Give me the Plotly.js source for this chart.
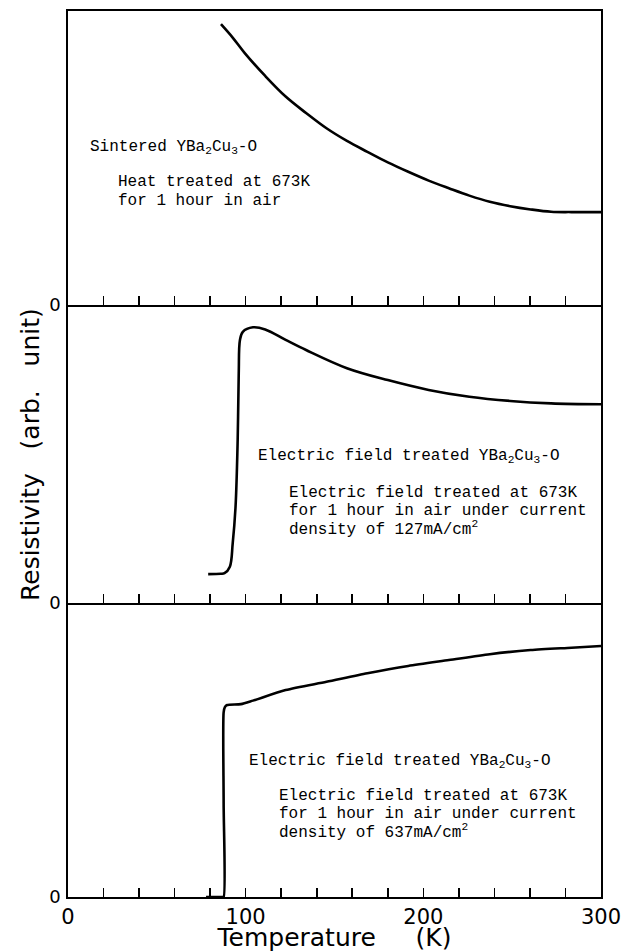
<!DOCTYPE html>
<html>
<head>
<meta charset="utf-8">
<script src="https://cdn.plot.ly/plotly-3.0.1.min.js"></script>
<style>html,body{margin:0;padding:0;background:#fff;}#chart{width:637px;height:952px;}</style>
</head>
<body>
<div id="chart"></div>
<script>
// ---- data (temperature in K, resistivity in arbitrary units, 0-100 per panel) ----
const sinteredT = [86.1, 92.9, 99.6, 111.0, 122.5, 134.0, 145.5, 157.0, 168.5, 180.0, 191.5, 203.0, 214.4, 225.9, 237.4, 248.9, 260.4, 271.9, 283.4, 300];
const sinteredR = [95.5, 90.8, 85.6, 77.9, 70.9, 65.3, 60.1, 55.8, 52.1, 48.5, 45.3, 42.3, 39.7, 37.2, 35.1, 33.6, 32.5, 31.7, 31.6, 31.6];

const ef127T = [78.9, 86.0, 88.1, 91.1, 92.7, 94.3, 95.5, 96.1, 96.8, 98.4, 104.1, 111.0, 122.5, 134.0, 157.0, 180.0, 203.0, 225.9, 248.9, 271.9, 300];
const ef127R = [9.7, 9.8, 10.0, 12.2, 20.0, 32.3, 54.7, 77.1, 88.3, 91.0, 92.5, 91.8, 88.3, 84.9, 78.8, 74.8, 71.5, 69.2, 67.8, 67.0, 66.7];

const ef637T = [77.7, 86.8, 87.6, 87.6, 87.6, 88.3, 89.6, 97.3, 104.1, 122.5, 145.5, 168.5, 191.5, 214.4, 237.4, 260.4, 283.4, 300];
const ef637R = [0, 0, 0, 32.0, 62.8, 64.6, 65.3, 65.6, 66.8, 70.4, 73.2, 76.1, 78.6, 80.6, 82.6, 84.0, 84.8, 85.4];

const xTickVals = [0, 100, 200, 300];
const xTickText = ['0', '100', '200', '300'];
const xMinorStep = 20;
const yTickVals = [0];
const yTickText = ['0'];

const topLabels = [
  {x: 11.5, y: 53.5, t: 'Sintered YBa<sub>2</sub>Cu<sub>3</sub>-O'},
  {x: 27.0, y: 41.9, t: 'Heat treated at 673K'},
  {x: 27.0, y: 35.4, t: 'for 1 hour in air'}
];
const midLabels = [
  {x: 105.6, y: 49.0, t: 'Electric field treated YBa<sub>2</sub>Cu<sub>3</sub>-O'},
  {x: 123.0, y: 36.8, t: 'Electric field treated at 673K'},
  {x: 123.0, y: 30.8, t: 'for 1 hour in air under current'},
  {x: 123.0, y: 25.0, t: 'density of 127mA/cm<sup>2</sup>'}
];
const botLabels = [
  {x: 101.0, y: 46.0, t: 'Electric field treated YBa<sub>2</sub>Cu<sub>3</sub>-O'},
  {x: 117.4, y: 34.2, t: 'Electric field treated at 673K'},
  {x: 117.4, y: 28.4, t: 'for 1 hour in air under current'},
  {x: 117.4, y: 22.4, t: 'density of 637mA/cm<sup>2</sup>'}
];

// ---- traces ----
const lineStyle = {color: '#000', width: 2.6, shape: 'spline', smoothing: 1};
const traces = [
  {x: sinteredT, y: sinteredR, xaxis: 'x', yaxis: 'y', mode: 'lines', line: lineStyle, hoverinfo: 'skip'},
  {x: ef127T, y: ef127R, xaxis: 'x2', yaxis: 'y2', mode: 'lines', line: lineStyle, hoverinfo: 'skip'},
  {x: ef637T, y: ef637R, xaxis: 'x3', yaxis: 'y3', mode: 'lines', line: Object.assign({}, lineStyle, {smoothing: 0.7}), hoverinfo: 'skip'}
];

const axisFont = {family: 'DejaVu Sans, sans-serif', size: 18, color: '#000'};
function xAxis(anchor, showLabels, mirror) {
  return {
    anchor: anchor, domain: [0, 1], range: [0, 300],
    showline: true, mirror: mirror, linecolor: '#000', linewidth: 1.6,
    showgrid: false, zeroline: false,
    ticks: 'inside', ticklen: 9, tickwidth: 1.6, tickcolor: '#000',
    tickmode: 'array', tickvals: xTickVals, ticktext: xTickText,
    minor: {ticks: 'inside', tick0: 0, dtick: xMinorStep, ticklen: 9, tickwidth: 1.6, tickcolor: '#000', showgrid: false},
    showticklabels: showLabels,
    tickfont: {family: 'DejaVu Sans, sans-serif', size: 21, color: '#000'}
  };
}
function yAxis(anchor, domain) {
  return {
    anchor: anchor, domain: domain, range: [0, 100],
    showline: true, mirror: true, linecolor: '#000', linewidth: 1.6,
    showgrid: false, zeroline: false, ticks: '',
    tickmode: 'array', tickvals: yTickVals, ticktext: yTickText,
    tickfont: axisFont, ticklabelstandoff: 2
  };
}

const annFont = {family: 'Liberation Mono, DejaVu Sans Mono, monospace', size: 16, color: '#000'};
function mk(list, xr, yr) {
  return list.map(a => ({x: a.x, y: a.y, xref: xr, yref: yr, text: a.t, showarrow: false,
    xanchor: 'left', yanchor: 'middle', align: 'left', font: annFont}));
}

const annotations = [].concat(
  mk(topLabels, 'x', 'y'), mk(midLabels, 'x2', 'y2'), mk(botLabels, 'x3', 'y3'),
  [{
    text: 'Resistivity\u00A0\u00A0\u00A0(arb.\u00A0\u00A0\u00A0unit)', textangle: -90,
    xref: 'paper', yref: 'paper', x: -0.0713, y: 0.5, xanchor: 'center', yanchor: 'middle',
    showarrow: false, font: {family: 'DejaVu Sans, sans-serif', size: 25, color: '#000'}
  }]
);

const xa3 = xAxis('y3', true, false);
xa3.title = {text: 'Temperature\u00A0\u00A0\u00A0\u00A0\u00A0(K)', font: {family: 'DejaVu Sans, sans-serif', size: 25, color: '#000'}, standoff: 3};

const layout = {
  width: 637, height: 952,
  margin: {l: 68, r: 36, t: 11, b: 55},
  paper_bgcolor: '#fff', plot_bgcolor: 'rgba(0,0,0,0)',
  showlegend: false,
  xaxis: xAxis('y', false, true),
  xaxis2: xAxis('y2', false, false),
  xaxis3: xa3,
  yaxis: yAxis('x', [0.6682, 1]),
  yaxis2: yAxis('x2', [0.3318, 0.6682]),
  yaxis3: yAxis('x3', [0, 0.3318]),
  annotations: annotations
};

Plotly.newPlot('chart', traces, layout, {staticPlot: true, displayModeBar: false});
</script>
</body>
</html>
